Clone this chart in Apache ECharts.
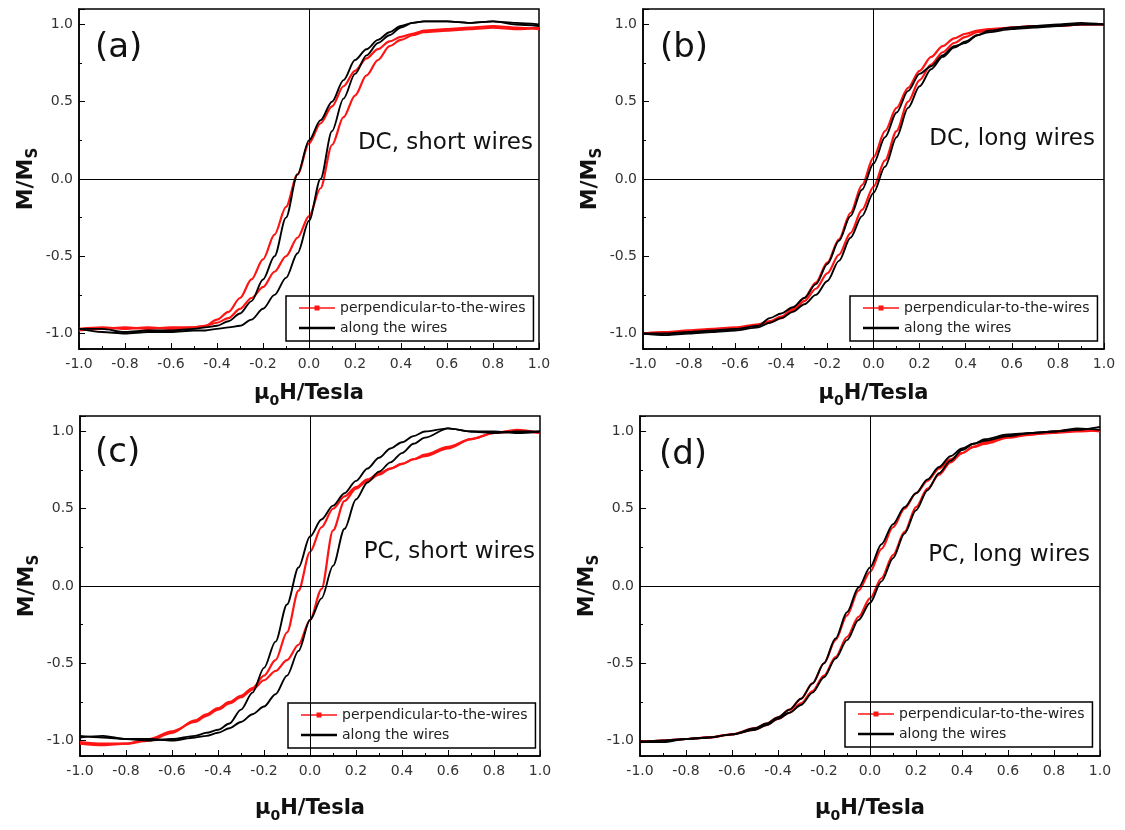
<!DOCTYPE html>
<html>
<head>
<meta charset="utf-8">
<title>Hysteresis loops</title>
<script src="https://cdn.jsdelivr.net/npm/echarts@6/dist/echarts.min.js"></script>
<style>
  html, body { margin: 0; padding: 0; background: #fff; }
  #chart { width: 1125px; height: 830px; }
</style>
</head>
<body>
<div id="chart"></div>
<script>
// applied field, shared by every branch
const hField = [-1.0, -0.9, -0.8, -0.7, -0.6, -0.5, -0.45, -0.4, -0.35, -0.3, -0.25, -0.2, -0.15, -0.1, -0.05, 0,
  0.05, 0.1, 0.15, 0.2, 0.25, 0.3, 0.35, 0.4, 0.45, 0.5, 0.6, 0.7, 0.8, 0.9, 1.0];

// (a) DC, short wires
const aRedDown = [-0.97, -0.96, -0.97, -0.96, -0.97, -0.96, -0.95, -0.91, -0.86, -0.77, -0.65, -0.52, -0.36, -0.18, 0.03, 0.23,
  0.36, 0.47, 0.6, 0.7, 0.78, 0.84, 0.89, 0.92, 0.94, 0.96, 0.97, 0.98, 0.99, 0.98, 0.97];
const aRedUp = [-0.98, -0.97, -0.96, -0.97, -0.96, -0.96, -0.95, -0.93, -0.9, -0.84, -0.77, -0.7, -0.6, -0.5, -0.38, -0.24,
  -0.06, 0.22, 0.4, 0.54, 0.67, 0.77, 0.86, 0.9, 0.93, 0.95, 0.96, 0.97, 0.98, 0.97, 0.98];
const aBlackDown = [-0.97, -0.97, -0.99, -0.98, -0.98, -0.97, -0.96, -0.95, -0.92, -0.87, -0.79, -0.65, -0.5, -0.25, 0.03, 0.25,
  0.38, 0.5, 0.64, 0.77, 0.84, 0.9, 0.95, 0.99, 1.01, 1.02, 1.02, 1.01, 1.02, 1.01, 1.0];
const aBlackUp = [-0.97, -0.99, -1.0, -0.99, -0.99, -0.98, -0.98, -0.97, -0.96, -0.95, -0.91, -0.84, -0.75, -0.64, -0.48, -0.27,
  0.0, 0.31, 0.52, 0.68, 0.8, 0.88, 0.93, 0.98, 1.01, 1.02, 1.02, 1.01, 1.02, 1.0, 0.99];

// (b) DC, long wires
const bRedDown = [-1.0, -0.99, -0.98, -0.97, -0.96, -0.94, -0.92, -0.89, -0.84, -0.77, -0.67, -0.54, -0.39, -0.22, -0.04, 0.14,
  0.31, 0.46, 0.59, 0.7, 0.79, 0.86, 0.91, 0.94, 0.96, 0.97, 0.98, 0.99, 0.99, 1.0, 1.0];
const bRedUp = [-1.0, -0.99, -0.99, -0.98, -0.97, -0.95, -0.93, -0.9, -0.85, -0.79, -0.71, -0.61, -0.49, -0.35, -0.2, -0.05,
  0.12, 0.31, 0.5, 0.64, 0.74, 0.82, 0.88, 0.92, 0.95, 0.96, 0.98, 0.99, 0.99, 1.0, 1.0];
const bBlackDown = [-1.0, -1.0, -0.99, -0.98, -0.97, -0.95, -0.9, -0.87, -0.83, -0.77, -0.68, -0.55, -0.4, -0.24, -0.07, 0.1,
  0.27, 0.43, 0.57, 0.68, 0.73, 0.8, 0.86, 0.88, 0.93, 0.96, 0.98, 0.99, 1.0, 1.01, 1.0];
const bBlackUp = [-1.0, -1.01, -1.0, -0.99, -0.98, -0.96, -0.93, -0.9, -0.86, -0.81, -0.75, -0.66, -0.53, -0.38, -0.24, -0.09,
  0.08, 0.27, 0.46, 0.6, 0.71, 0.79, 0.85, 0.89, 0.93, 0.95, 0.97, 0.98, 0.99, 1.0, 1.0];

// (c) PC, short wires
const cRedDown = [-1.01, -1.02, -1.02, -1.0, -0.95, -0.87, -0.83, -0.79, -0.75, -0.71, -0.66, -0.58, -0.48, -0.3, -0.03, 0.22,
  0.38, 0.5, 0.58, 0.64, 0.69, 0.73, 0.76, 0.79, 0.82, 0.84, 0.89, 0.95, 0.99, 1.0, 0.99];
const cRedUp = [-1.02, -1.03, -1.02, -0.99, -0.94, -0.88, -0.84, -0.8, -0.76, -0.72, -0.67, -0.61, -0.55, -0.48, -0.38, -0.22,
  -0.02, 0.36, 0.55, 0.63, 0.68, 0.72, 0.76, 0.79, 0.82, 0.85, 0.9, 0.95, 0.99, 1.01, 0.99];
const cBlackDown = [-0.98, -0.97, -0.99, -1.0, -0.99, -0.97, -0.95, -0.93, -0.89, -0.8, -0.69, -0.53, -0.36, -0.12, 0.12, 0.32,
  0.43, 0.52, 0.6, 0.68, 0.76, 0.83, 0.89, 0.93, 0.97, 1.0, 1.02, 1.0, 0.99, 1.0, 1.0];
const cBlackUp = [-0.97, -0.98, -0.99, -0.99, -1.0, -0.98, -0.97, -0.95, -0.92, -0.88, -0.83, -0.78, -0.7, -0.58, -0.42, -0.22,
  -0.08, 0.13, 0.37, 0.56, 0.67, 0.74, 0.8, 0.86, 0.92, 0.96, 1.02, 1.0, 1.0, 0.99, 1.0];

// (d) PC, long wires
const dRedDown = [-1.01, -1.0, -0.99, -0.98, -0.96, -0.92, -0.89, -0.85, -0.8, -0.73, -0.63, -0.5, -0.35, -0.19, -0.03, 0.09,
  0.24, 0.38, 0.5, 0.6, 0.68, 0.76, 0.82, 0.86, 0.9, 0.92, 0.96, 0.98, 1.0, 1.01, 1.0];
const dRedUp = [-1.01, -1.0, -0.99, -0.98, -0.96, -0.93, -0.9, -0.86, -0.82, -0.76, -0.68, -0.58, -0.46, -0.33, -0.2, -0.08,
  0.05, 0.2, 0.35, 0.51, 0.63, 0.72, 0.8, 0.86, 0.9, 0.93, 0.97, 0.98, 0.99, 1.0, 1.01];
const dBlackDown = [-1.01, -1.0, -0.99, -0.98, -0.96, -0.92, -0.89, -0.85, -0.8, -0.73, -0.63, -0.5, -0.34, -0.17, -0.01, 0.12,
  0.27, 0.4, 0.51, 0.6, 0.69, 0.77, 0.84, 0.89, 0.92, 0.94, 0.97, 0.99, 1.0, 1.02, 1.01];
const dBlackUp = [-1.01, -1.01, -0.99, -0.98, -0.96, -0.93, -0.9, -0.86, -0.82, -0.77, -0.69, -0.59, -0.47, -0.35, -0.22, -0.11,
  0.03, 0.18, 0.34, 0.49, 0.62, 0.73, 0.81, 0.88, 0.92, 0.95, 0.98, 0.99, 1.0, 1.01, 1.03];

const panelTags = ['(a)', '(b)', '(c)', '(d)'];
const panelNotes = ['DC, short wires', 'DC, long wires', 'PC, short wires', 'PC, long wires'];
const redName = 'perpendicular-to-the-wires';
const blackName = 'along the wires';

const FONT = 'DejaVu Sans';
const RED = '#ff1414';

// grid boxes: left, top, width, height
const boxes = [
  [79, 9, 460, 340],
  [643, 9, 461, 340],
  [80, 416, 460, 340],
  [640, 416, 460, 340]
];
const loops = [
  [aRedDown, aRedUp, aBlackDown, aBlackUp],
  [bRedDown, bRedUp, bBlackDown, bBlackUp],
  [cRedDown, cRedUp, cBlackDown, cBlackUp],
  [dRedDown, dRedUp, dBlackDown, dBlackUp]
];
const legendPos = [[286, 296], [850, 296], [288, 703], [845, 702]];
const tagPos = [[95, 48], [660, 48], [95, 453], [659, 455]];
const notePos = [[533, 143], [1095, 139], [535, 552], [1090, 555]];

const redIcon = 'path://M0,3.3L36,3.3L36,4.7L0,4.7Z M15.5,1.5L20.5,1.5L20.5,6.5L15.5,6.5Z';
const blackIcon = 'path://M0,0L36,0L36,2.4L0,2.4Z';

const nameRich = {
  m: { fontSize: 21, fontWeight: 'bold', fontFamily: FONT, color: '#111' },
  s: { fontSize: 14, fontWeight: 'bold', fontFamily: FONT, color: '#111', padding: [14, 0, 0, 0] }
};
const yNameRich = {
  m: { fontSize: 22, fontWeight: 'bold', fontFamily: FONT, color: '#111' },
  s: { fontSize: 15, fontWeight: 'bold', fontFamily: FONT, color: '#111', padding: [14, 0, 0, 0] }
};

function branch(name, idx, ys, color, width, mark) {
  const s = {
    type: 'line',
    name: name,
    xAxisIndex: idx,
    yAxisIndex: idx,
    data: hField.map((h, i) => [h, ys[i]]),
    symbol: 'none',
    smooth: 0.3,
    smoothMonotone: 'x',
    lineStyle: { color: color, width: width },
    itemStyle: { color: color }
  };
  if (mark) {
    s.markLine = {
      silent: true,
      symbol: ['none', 'none'],
      label: { show: false },
      lineStyle: { color: '#000', width: 1, type: 'solid' },
      data: [{ xAxis: 0 }, { yAxis: 0 }]
    };
  }
  return s;
}

const grid = [], xAxis = [], yAxis = [], series = [], legend = [], graphic = [];

boxes.forEach((b, i) => {
  grid.push({ left: b[0], top: b[1], width: b[2], height: b[3], show: true, borderColor: '#000', borderWidth: 1.5 });

  xAxis.push({
    gridIndex: i, type: 'value', min: -1, max: 1, interval: 0.2,
    axisLine: { onZero: false, lineStyle: { color: '#000', width: 1.5 } },
    axisTick: { inside: true, length: 6, lineStyle: { color: '#000' } },
    minorTick: { show: true, splitNumber: 2, length: 3, lineStyle: { color: '#000' } },
    splitLine: { show: false },
    axisLabel: { margin: 8, color: '#333', fontFamily: FONT, fontSize: 14, formatter: v => v.toFixed(1) },
    name: '{m|μ}{s|0}{m|H/Tesla}',
    nameLocation: 'middle',
    nameGap: i < 2 ? 31 : 39,
    nameTextStyle: { rich: nameRich }
  });

  yAxis.push({
    gridIndex: i, type: 'value', min: -1.1, max: 1.1, splitNumber: 4,
    axisLine: { onZero: false, lineStyle: { color: '#000', width: 1.5 } },
    axisTick: { inside: true, length: 6, lineStyle: { color: '#000' } },
    minorTick: { show: true, splitNumber: 2, length: 3, lineStyle: { color: '#000' } },
    splitLine: { show: false },
    axisLabel: {
      margin: 6, color: '#333', fontFamily: FONT, fontSize: 14,
      showMinLabel: false, showMaxLabel: false,
      formatter: v => (Math.abs(v) > 1.05 ? '' : v.toFixed(1))
    },
    name: '{m|M/M}{s|S}',
    nameLocation: 'middle',
    nameRotate: 90,
    nameGap: 38,
    nameTextStyle: { rich: yNameRich }
  });

  const L = loops[i];
  series.push(branch(redName, i, L[0], RED, 2.2, true));
  series.push(branch(redName, i, L[1], RED, 2.2, false));
  series.push(branch(blackName, i, L[2], '#000', 1.9, false));
  series.push(branch(blackName, i, L[3], '#000', 1.9, false));

  legend.push({
    left: legendPos[i][0], top: legendPos[i][1],
    orient: 'vertical',
    padding: [5, 8, 6, 13],
    itemGap: 6,
    itemWidth: 36,
    itemHeight: 8,
    borderColor: '#000',
    borderWidth: 1.5,
    selectedMode: false,
    textStyle: { fontFamily: FONT, fontSize: 14, color: '#222' },
    data: [{ name: redName, icon: redIcon }, { name: blackName, icon: blackIcon }]
  });

  graphic.push({
    type: 'text', x: tagPos[i][0], y: tagPos[i][1],
    style: { text: panelTags[i], fontFamily: FONT, fontSize: 34, fill: '#111', align: 'left', verticalAlign: 'middle' }
  });
  graphic.push({
    type: 'text', x: notePos[i][0], y: notePos[i][1],
    style: { text: panelNotes[i], fontFamily: FONT, fontSize: 23, fill: '#111', align: 'right', verticalAlign: 'middle' }
  });
});

const chart = echarts.init(document.getElementById('chart'));
chart.setOption({
  animation: false,
  backgroundColor: '#fff',
  grid: grid,
  xAxis: xAxis,
  yAxis: yAxis,
  legend: legend,
  graphic: graphic,
  series: series
});
window.addEventListener('resize', () => chart.resize());
</script>
</body>
</html>
